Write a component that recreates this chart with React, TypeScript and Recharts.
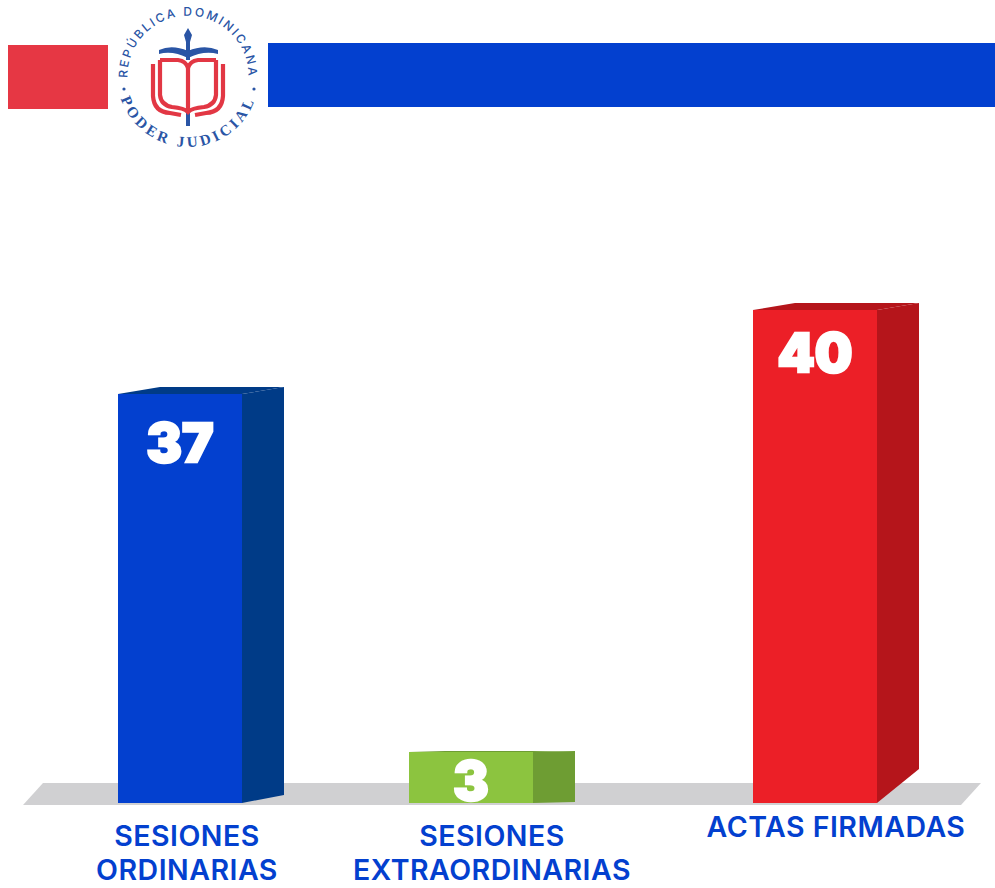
import React from 'react';
import { BarChart, Bar, XAxis, YAxis, LabelList } from 'recharts';

const categories = ['SESIONES ORDINARIAS', 'SESIONES EXTRAORDINARIAS', 'ACTAS FIRMADAS'];
const values = [37, 3, 40];

const tickLines = [['SESIONES', 'ORDINARIAS'], ['SESIONES', 'EXTRAORDINARIAS'], ['ACTAS FIRMADAS']];
const tickNudge = [
    { dx: 7, dy: 35 },
    { dx: 21, dy: 35 },
    { dx: 21, dy: 26 },
];
const labelDrop = [68, 48, 62];

const frontColors = ['#0340cf', '#8cc43f', '#ec1f27'];
const sideColors = ['#003b87', '#6e9d33', '#b5151b'];

// the bars in the picture are not to scale and not evenly spaced, so the axes get piecewise scales
const yKnots = [0, 3, 37, 40];
const yStops = [0, 51 / 493, 409 / 493, 1];
const xStops = [117 / 995, 408 / 995, 752 / 995];
const BAR_WIDTH = 124;
const BAND_WIDTH = 126; // has to stay wider than the bar or recharts shrinks the bar

function knotScale(keys: any[], stops: number[], band?: number) {
    let dom: any[] = keys;
    let rng: number[] = [0, 1];
    const place = (s: number) => rng[0] + s * (rng[1] - rng[0]);
    const f: any = (v: any) => {
        if (band) {
            const i = keys.indexOf(v);
            return i < 0 ? undefined : place(stops[i]);
        }
        for (let i = 1; i < keys.length; i++) {
            if (v <= keys[i]) {
                const t = (v - keys[i - 1]) / (keys[i] - keys[i - 1]);
                return place(stops[i - 1] + t * (stops[i] - stops[i - 1]));
            }
        }
        return place(1);
    };
    f.domain = (d?: any[]) => {
        if (d === undefined) return dom;
        dom = d;
        return f;
    };
    f.range = (r?: number[]) => {
        if (r === undefined) return rng;
        rng = r;
        return f;
    };
    f.copy = () => knotScale(keys, stops, band);
    f.ticks = () => keys;
    if (band) f.bandwidth = () => band;
    return f;
}

const xScale = knotScale(categories, xStops, BAND_WIDTH);
const yScale = knotScale(yKnots, yStops);

const data = categories.map((name, i) => ({ name, value: values[i] }));

// how far the back edge of each box rises at its foot (perspective differs per bar)
const footRise = [8, 1, 34];
const DEPTH = 42;
const TOP_RISE = 7;

function Box3D(props: any) {
    const { x, y, width, height, index } = props;
    const right = x + width;
    const bottom = y + height;
    const rise = index === 1 ? 1 : TOP_RISE;
    const shear = index === 1 ? 36 : DEPTH;
    return (
        <g>
            <polygon
                points={`${x},${y} ${x + shear},${y - rise} ${right + DEPTH},${y - rise} ${right},${y}`}
                fill={sideColors[index]}
            />
            <polygon
                points={`${right},${y} ${right + DEPTH},${y - rise} ${right + DEPTH},${bottom - footRise[index]} ${right},${bottom}`}
                fill={sideColors[index]}
            />
            <rect x={x} y={y} width={width} height={height} fill={frontColors[index]} />
        </g>
    );
}

function ValueLabel(props: any) {
    const { x, y, width, value, index } = props;
    return (
        <text
            x={x + width / 2}
            y={y + labelDrop[index]}
            textAnchor="middle"
            fill="#ffffff"
            stroke="#ffffff"
            strokeWidth={2.5}
            fontFamily="Inter"
            fontWeight={900}
            fontSize={53}
        >
            {value}
        </text>
    );
}

function CategoryTick(props: any) {
    const { x, y, index } = props;
    const nudge = tickNudge[index];
    return (
        <text
            x={x + nudge.dx}
            y={y + nudge.dy}
            textAnchor="middle"
            fill="#0340cf"
            fontFamily="Inter"
            fontWeight={600}
            fontSize={28.5}
            letterSpacing={0.5}
        >
            {tickLines[index].map((line, i) => (
                <tspan key={line} x={x + nudge.dx} dy={i === 0 ? 0 : 34}>
                    {line}
                </tspan>
            ))}
        </text>
    );
}

function Logo() {
    const blue = '#2a55a5';
    const red = '#e23744';
    return (
        <g>
            <defs>
                <path id="arcTop" d="M 128,84 A 60.5 60.5 0 1 1 248,84" />
                <path id="arcBottom" d="M 117,76 A 71 71 0 0 0 259,76" />
            </defs>
            <text fill={blue} fontFamily="Inter" fontWeight={500} fontSize={12} letterSpacing={2.2} textAnchor="middle">
                <textPath href="#arcTop" startOffset="50%">REPÚBLICA DOMINICANA</textPath>
            </text>
            <text fill={blue} fontFamily="Liberation Serif" fontWeight={700} fontSize={15} letterSpacing={3.4} textAnchor="middle">
                <textPath href="#arcBottom" startOffset="50%">PODER JUDICIAL</textPath>
            </text>
            <circle cx={124} cy={89} r={1.6} fill={blue} />
            <circle cx={254} cy={89} r={1.6} fill={blue} />
            <path d="M 188,28 L 192,35 L 190,42 L 190,60 L 186,60 L 186,42 L 184,35 Z" fill={blue} />
            <path d="M 159,50 Q 172,44 188,51 Q 204,44 218,50 L 218,54 Q 204,50 188,58 Q 172,50 159,54 Z" fill={blue} />
            <rect x={186} y={113} width={4} height={13} fill={blue} />
            <g fill="none" stroke={red} strokeWidth={4.2}>
                <path d="M 160,60 L 178,60 Q 186,61 188,68 Q 190,61 198,60 L 216,60" />
                <path d="M 160,60 L 160,95 Q 161,105 172,107 Q 184,108 188,112 Q 192,108 204,107 Q 215,105 216,95 L 216,60" />
                <path d="M 153,64 L 153,96 Q 154,112 170,113 L 181,115" />
                <path d="M 223,64 L 223,96 Q 222,112 206,113 L 195,115" />
                <path d="M 188,68 L 188,112" />
            </g>
        </g>
    );
}

export default function App() {
    return (
        <div style={{ position: 'absolute', left: 0, top: 0, width: 995, height: 888, background: '#ffffff' }}>
            <svg width={995} height={888} style={{ position: 'absolute', left: 0, top: 0 }}>
                <rect x={8} y={45} width={100} height={64} fill="#e63744" />
                <rect x={268} y={43} width={727} height={64} fill="#0340cf" />
                <Logo />
                <polygon points="43,783 981,783 961,805 23,805" fill="#d0d0d2" />
            </svg>
            <div style={{ position: 'absolute', left: 0, top: 0 }}>
                <BarChart
                    width={995}
                    height={888}
                    data={data}
                    barSize={BAR_WIDTH}
                    barCategoryGap={0}
                    barGap={0}
                    margin={{ top: 310, right: 0, bottom: 0, left: 0 }}
                >
                    <XAxis
                        dataKey="name"
                        scale={xScale}
                        height={85}
                        interval={0}
                        axisLine={false}
                        tickLine={false}
                        tick={<CategoryTick />}
                    />
                    <YAxis type="number" hide domain={[0, 40]} scale={yScale} width={0} />
                    <Bar dataKey="value" shape={<Box3D />} isAnimationActive={false}>
                        <LabelList dataKey="value" content={<ValueLabel />} />
                    </Bar>
                </BarChart>
            </div>
        </div>
    );
}
